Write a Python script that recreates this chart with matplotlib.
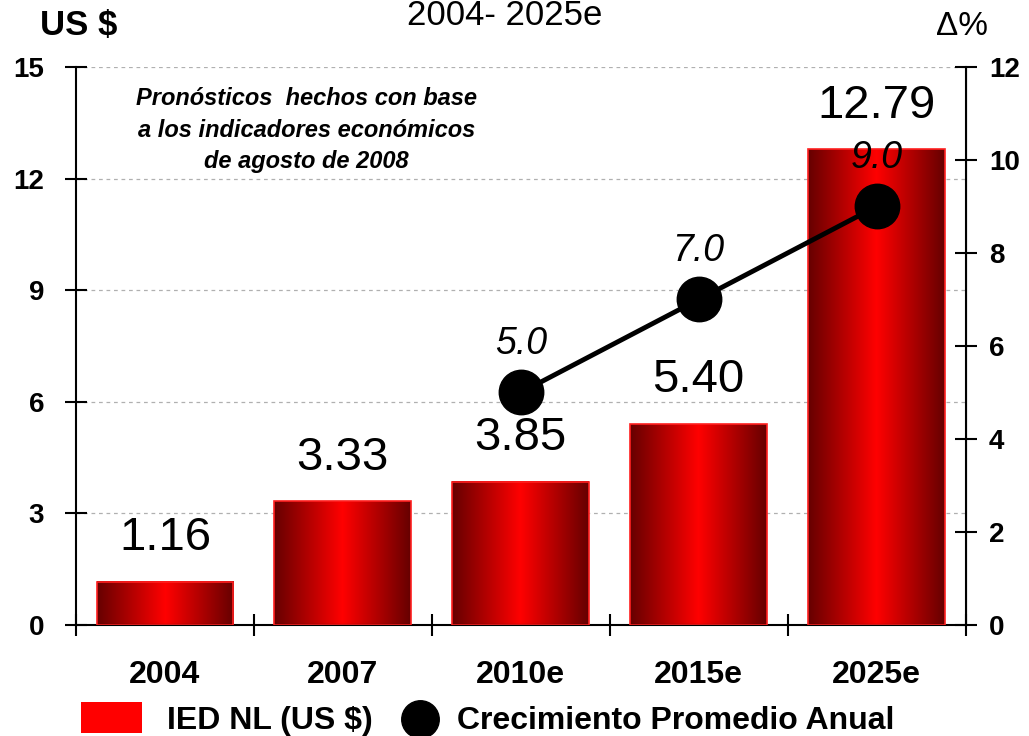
import numpy as np
import matplotlib.pyplot as plt
from matplotlib.colors import LinearSegmentedColormap

categories = ["2004", "2007", "2010e", "2015e", "2025e"]
ied = [1.16, 3.33, 3.85, 5.40, 12.79]
ied_labels = ["1.16", "3.33", "3.85", "5.40", "12.79"]
growth_cats = ["2010e", "2015e", "2025e"]
growth = [5.0, 7.0, 9.0]
growth_labels = ["5.0", "7.0", "9.0"]

fnt = ["Liberation Sans", "DejaVu Sans"]

fig = plt.figure(figsize=(10.29, 7.36), dpi=100)
ax = fig.add_axes([0.0739, 0.1508, 0.8644, 0.7582])
ax2 = ax.twinx()

x = np.arange(len(categories))
w = 0.77
cmap = LinearSegmentedColormap.from_list("redgrad", ["#660000", "#ff0000", "#660000"])
grad = np.linspace(0, 1, 256).reshape(1, -1)

bars = ax.bar(x, ied, width=w, color="none", edgecolor="#ff2020", linewidth=1.2, zorder=3)
for b in bars:
    x0, y0 = b.get_x(), b.get_y()
    ax.imshow(grad, cmap=cmap, aspect="auto", zorder=2,
              extent=[x0, x0 + b.get_width(), y0, y0 + b.get_height()])

for xi, v, lab in zip(x, ied, ied_labels):
    ax.text(xi, v + 0.85, lab, ha="center", va="baseline", fontsize=34,
            family=fnt, color="black", zorder=5)

ax.set_xlim(-0.5, 4.5)
ax.set_ylim(0, 15)
ax.set_yticks([0, 3, 6, 9, 12, 15])
ax.set_xticks(x)
ax.set_xticklabels(categories, fontsize=23, fontweight="bold", family=fnt)
ax.tick_params(axis="x", length=0, pad=25)
ax.set_xticks(np.arange(-0.5, 5, 1), minor=True)
ax.tick_params(axis="x", which="minor", length=16, direction="inout", width=1.5)
ax.tick_params(axis="y", direction="inout", length=16, width=1.5, labelsize=20, pad=15)
for t in ax.get_yticklabels():
    t.set_fontweight("bold")
    t.set_family(fnt)
ax.yaxis.grid(True, linestyle=(0, (3, 3)), color="#b0b0b0", linewidth=0.9)
ax.set_axisbelow(True)
ax.spines["top"].set_visible(False)
ax.spines["left"].set_linewidth(1.5)
ax.spines["bottom"].set_linewidth(1.5)

gx = [categories.index(c) for c in growth_cats]
ax2.plot(gx, growth, color="black", linewidth=3.5, marker="o", markersize=32, zorder=6)
for xi, v, lab in zip(gx, growth, growth_labels):
    ax2.text(xi, v + 0.83, lab, ha="center", va="baseline", fontsize=27,
             family=fnt, style="italic", color="black", zorder=7)
ax2.set_ylim(0, 12)
ax2.set_yticks([0, 2, 4, 6, 8, 10, 12])
ax2.tick_params(axis="y", direction="inout", length=16, width=1.5, labelsize=20, pad=9)
for t in ax2.get_yticklabels():
    t.set_fontweight("bold")
    t.set_family(fnt)
ax2.spines["top"].set_visible(False)
ax2.spines["right"].set_linewidth(1.5)
ax2.spines["left"].set_visible(False)
ax2.spines["bottom"].set_visible(False)

ax.text(0.259, 0.887, "Pronósticos  hechos con base\na los indicadores económicos\nde agosto de 2008",
        transform=ax.transAxes, ha="center", va="center", fontsize=17, fontweight="bold",
        style="italic", family=fnt, linespacing=1.45)

fig.text(0.039, 0.952, "US $", ha="left", va="baseline", fontsize=25, fontweight="bold", family=fnt)
fig.text(0.935, 0.952, "Δ%", ha="center", va="baseline", fontsize=24, family=fnt)
fig.text(0.49, 0.966, "2004- 2025e", ha="center", va="baseline", fontsize=25, family=fnt)

# legend
fig.patches.append(plt.Rectangle((0.0787, 0.0041), 0.0593, 0.0421, transform=fig.transFigure,
                                 facecolor="#ff0000", edgecolor="none"))
fig.text(0.162, 0.0095, "IED NL (US $)", ha="left", va="baseline", fontsize=23,
         fontweight="bold", family=fnt)
fig.lines.append(plt.Line2D([0.408], [0.023], transform=fig.transFigure, marker="o",
                            markersize=27, color="black", linestyle="none"))
fig.text(0.444, 0.0095, "Crecimiento Promedio Anual", ha="left", va="baseline", fontsize=23,
         fontweight="bold", family=fnt)

plt.savefig("out.png", dpi=100)
